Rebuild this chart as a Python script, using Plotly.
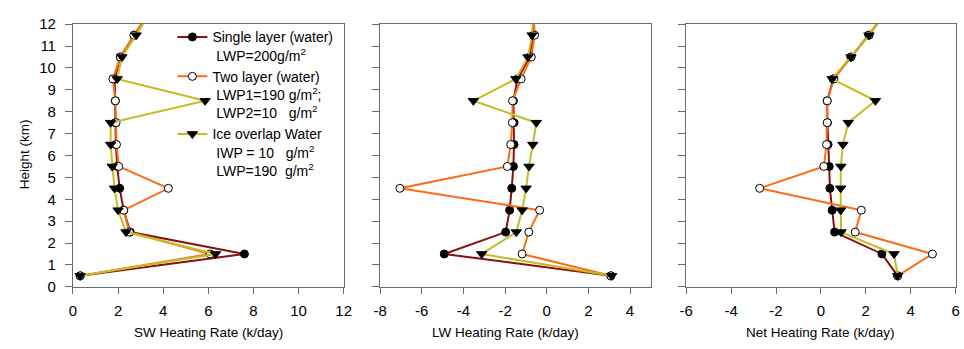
import plotly.graph_objects as go

# ---------------- data ----------------
height = [0.5, 1.5, 2.5, 3.5, 4.5, 5.5, 6.5, 7.5, 8.5, 9.5, 10.5, 11.5, 12.5]

sw_single = [0.32, 7.6, 2.54, 2.25, 2.07, 1.96, 1.9, 1.88, 1.88, 1.85, 2.1, 2.72, 3.36]
sw_two    = [0.32, 6.08, 2.5, 2.25, 4.23, 2.03, 1.93, 1.91, 1.88, 1.77, 2.1, 2.7, 3.36]
sw_ice    = [0.32, 6.32, 2.35, 2.0, 1.84, 1.74, 1.67, 1.67, 5.86, 1.96, 2.17, 2.8, 3.4]

lw_single = [3.08, -4.92, -1.97, -1.78, -1.68, -1.6, -1.57, -1.57, -1.6, -1.4, -0.82, -0.63, -0.66]
lw_two    = [3.08, -1.18, -0.86, -0.34, -7.05, -1.89, -1.73, -1.65, -1.64, -1.23, -0.74, -0.58, -0.62]
lw_ice    = [3.12, -3.12, -1.46, -1.18, -0.99, -0.85, -0.67, -0.5, -3.52, -1.48, -0.9, -0.7, -0.66]

net_single = [3.42, 2.72, 0.61, 0.5, 0.4, 0.37, 0.32, 0.29, 0.28, 0.55, 1.34, 2.14, 2.86]
net_two    = [3.42, 4.97, 1.53, 1.8, -2.73, 0.13, 0.25, 0.28, 0.28, 0.58, 1.34, 2.14, 2.86]
net_ice    = [3.42, 3.26, 0.9, 0.88, 0.88, 0.89, 0.98, 1.22, 2.43, 0.5, 1.34, 2.14, 2.86]

series_names = [
    "Single layer (water)<br>\u00a0LWP=200g/m<sup>2</sup>",
    "Two layer (water)<br>\u00a0LWP1=190 g/m<sup>2</sup>;<br>\u00a0LWP2=10\u00a0\u00a0 g/m<sup>2</sup>",
    "Ice overlap Water<br>\u00a0IWP = 10\u00a0\u00a0 g/m<sup>2</sup><br>\u00a0LWP=190\u00a0 g/m<sup>2</sup>",
]

sw_ticks = [0, 2, 4, 6, 8, 10, 12]
lw_ticks = [-8, -6, -4, -2, 0, 2, 4]
net_ticks = [-6, -4, -2, 0, 2, 4, 6]
y_ticks = list(range(0, 13))

x_titles = ["SW Heating Rate (k/day)", "LW Heating Rate (k/day)", "Net Heating Rate (k/day)"]
y_title = "Height (km)"

# ---------------- styles ----------------
W, H = 964, 349
FONT = "'Liberation Sans', Arial, sans-serif"
AX = "#6b6b6b"
colors = ["#8a1010", "#ff6a14", "#c4bd22"]
markers = [
    dict(symbol="circle", size=8, color="black", line=dict(color="black", width=1)),
    dict(symbol="circle", size=8, color="white", line=dict(color="black", width=1)),
    dict(symbol="triangle-down", size=9, color="black", line=dict(color="black", width=1)),
]

top_px, bot_px = 16, 292
ydom = [1 - bot_px / H, 1 - top_px / H]
panels = [
    dict(xpx=(67, 342), rng=[0, 12], data=[sw_single, sw_two, sw_ice], ticks=sw_ticks),
    dict(xpx=(379, 654), rng=[-8, 5], data=[lw_single, lw_two, lw_ice], ticks=lw_ticks),
    dict(xpx=(690, 964), rng=[-6, 6.02], data=[net_single, net_two, net_ice], ticks=net_ticks),
]

fig = go.Figure()
for p_i, p in enumerate(panels):
    xa = "x" if p_i == 0 else f"x{p_i + 1}"
    ya = "y" if p_i == 0 else f"y{p_i + 1}"
    for s_i in range(3):
        fig.add_trace(go.Scatter(
            x=p["data"][s_i], y=height, xaxis=xa, yaxis=ya,
            mode="lines+markers", name=series_names[s_i],
            line=dict(color=colors[s_i], width=2),
            marker=markers[s_i], showlegend=(p_i == 0),
            cliponaxis=True,
        ))

layout = dict(
    width=W, height=H, margin=dict(l=0, r=0, t=0, b=0),
    paper_bgcolor="white", plot_bgcolor="white",
    font=dict(family=FONT, size=13.5, color="black"),
    legend=dict(x=168 / W, y=1 - 13 / H, xanchor="left", yanchor="top",
                bgcolor="rgba(0,0,0,0)", font=dict(size=14, family=FONT),
                valign="top", tracegroupgap=0, itemwidth=30),
    annotations=[],
)
for p_i, p in enumerate(panels):
    sfx = "" if p_i == 0 else str(p_i + 1)
    layout[f"xaxis{sfx}"] = dict(
        domain=[p["xpx"][0] / W, min(1.0, p["xpx"][1] / W)], range=p["rng"],
        anchor=f"y{sfx}", tickmode="array", tickvals=p["ticks"],
        ticktext=[str(v) for v in p["ticks"]],
        ticks="outside", ticklen=6, tickwidth=1, ticklabelstandoff=4,
        ticklabeloverflow="allow",
        tickcolor=AX, showline=True, linecolor=AX, linewidth=1, mirror=True,
        showgrid=False, zeroline=False, tickfont=dict(size=15),
    )
    layout[f"yaxis{sfx}"] = dict(
        domain=ydom, range=[0, 12], anchor=f"x{sfx}", tickmode="array",
        tickvals=y_ticks, ticktext=[str(v) for v in y_ticks],
        ticks="outside", ticklen=7, tickwidth=1, tickcolor=AX, showline=True,
        ticklabelstandoff=6,
        linecolor=AX, linewidth=1, mirror=True, showgrid=False, zeroline=False,
        showticklabels=(p_i == 0), tickfont=dict(size=15),
    )
    span = p["rng"][1] - p["rng"][0]
    px_per = (p["xpx"][1] - p["xpx"][0]) / span
    cx = p["xpx"][0] + 6 * px_per
    layout["annotations"].append(dict(
        text=x_titles[p_i], x=cx / W, y=1 - 340 / H, xref="paper", yref="paper",
        xanchor="center", yanchor="middle", showarrow=False, font=dict(size=13.5)))
layout["annotations"].append(dict(
    text=y_title, x=18 / W, y=1 - 153 / H, xref="paper", yref="paper", textangle=-90,
    xanchor="center", yanchor="middle", showarrow=False, font=dict(size=13.5)))

fig.update_layout(**layout)
fig.write_html("out.html")
